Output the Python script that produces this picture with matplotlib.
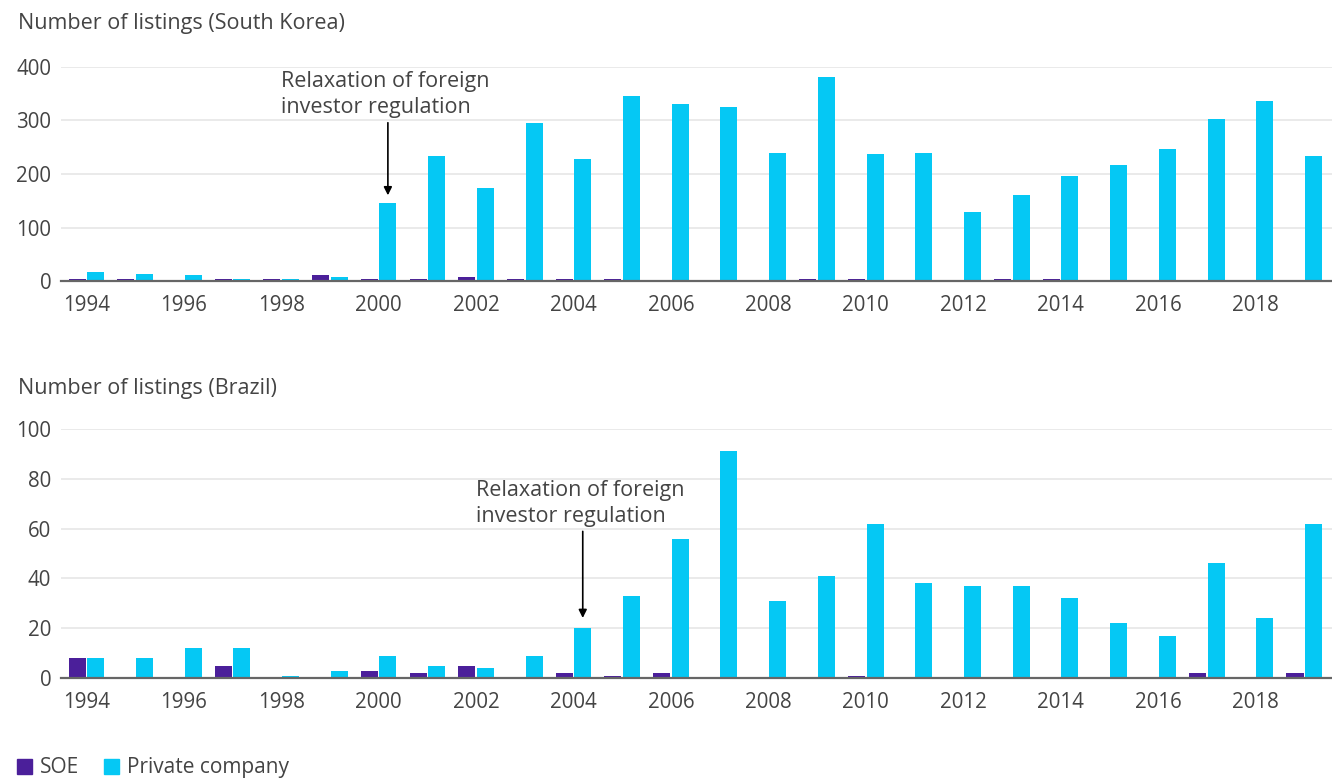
import matplotlib.pyplot as plt
from matplotlib.patches import Patch
import numpy as np

plt.rcParams['font.family'] = ['Open Sans', 'DejaVu Sans']

# Dados
years = list(range(1994, 2020))

korea_soe = [4, 3, 0, 3, 3, 11, 3, 3, 7, 3, 3, 3, 0, 0, 0, 3, 3, 0, 0, 3, 3, 0, 0, 0, 0, 0]
korea_private = [17, 13, 11, 3, 3, 7, 146, 234, 174, 295, 228, 346, 331, 325, 239, 381,
                 237, 239, 129, 161, 196, 217, 247, 303, 336, 234]

brazil_soe = [8, 0, 0, 5, 0, 0, 3, 2, 5, 0, 2, 1, 2, 0, 0, 0, 1, 0, 0, 0, 0, 0, 0, 2, 0, 2]
brazil_private = [8, 8, 12, 12, 1, 3, 9, 5, 4, 9, 20, 33, 56, 91, 31, 41, 62, 38, 37, 37,
                  32, 22, 17, 46, 24, 62]

tick_years = list(range(1994, 2019, 2))

SOE_COLOR = '#4b1f9a'
PRIV_COLOR = '#05c8f4'
TEXT_COLOR = '#444444'
FS = 15.5
TICK_FS = 14.8

fig = plt.figure(figsize=(13.32, 7.78), dpi=100)
ax1 = fig.add_axes([0.0458, 0.6388, 0.9542, 0.2751])
ax2 = fig.add_axes([0.0458, 0.1285, 0.9542, 0.3201])

w = 0.35
off = 0.19


def draw_panel(ax, soe, priv, ymax, step):
    x = np.array(years)
    ax.bar(x - off, soe, width=w, color=SOE_COLOR, zorder=3)
    ax.bar(x + off, priv, width=w, color=PRIV_COLOR, zorder=3)
    ax.set_xlim(1994 - 0.52, 2019 + 0.57)
    ax.set_ylim(0, ymax)
    ax.set_yticks(np.arange(0, ymax + 1, step))
    ax.set_xticks(tick_years)
    ax.set_xticklabels([str(y) for y in tick_years])
    ax.grid(axis='y', color='#e6e6e6', linewidth=1.2, zorder=0)
    for s in ['top', 'right', 'left']:
        ax.spines[s].set_visible(False)
    ax.spines['bottom'].set_color('#666666')
    ax.spines['bottom'].set_linewidth(1.6)
    ax.spines['bottom'].set_zorder(4)
    ax.tick_params(axis='both', length=0, labelsize=TICK_FS, colors=TEXT_COLOR)
    ax.tick_params(axis='y', pad=7)
    ax.tick_params(axis='x', pad=10)


draw_panel(ax1, korea_soe, korea_private, 400, 100)
draw_panel(ax2, brazil_soe, brazil_private, 100, 20)

fig.text(18 / 1332, 1 - 23 / 778, 'Number of listings (South Korea)', fontsize=FS,
         color=TEXT_COLOR, ha='left', va='center')
fig.text(18 / 1332, 1 - 388 / 778, 'Number of listings (Brazil)', fontsize=FS,
         color=TEXT_COLOR, ha='left', va='center')

# Anotações
ax1.annotate('', xy=(2000 + off, 155), xytext=(2000 + off, 301),
             arrowprops=dict(arrowstyle='-|>', color='black', lw=1.2, mutation_scale=12))
ax1.text(1998.0, 348, 'Relaxation of foreign\ninvestor regulation', fontsize=FS,
         color=TEXT_COLOR, ha='left', va='center', linespacing=1.33)

ax2.annotate('', xy=(2004 + off, 23), xytext=(2004 + off, 60),
             arrowprops=dict(arrowstyle='-|>', color='black', lw=1.2, mutation_scale=12))
ax2.text(2002.0, 70, 'Relaxation of foreign\ninvestor regulation', fontsize=FS,
         color=TEXT_COLOR, ha='left', va='center', linespacing=1.33)

handles = [Patch(color=SOE_COLOR, label='SOE'), Patch(color=PRIV_COLOR, label='Private company')]
leg = fig.legend(handles=handles, loc='lower left', bbox_to_anchor=(0.0, -0.022), ncol=2,
                 frameon=False, fontsize=15, handlelength=0.75, handleheight=0.75,
                 handletextpad=0.35, columnspacing=1.2, borderpad=0.3)
for t in leg.get_texts():
    t.set_color(TEXT_COLOR)

fig.savefig('out.png', dpi=100)
